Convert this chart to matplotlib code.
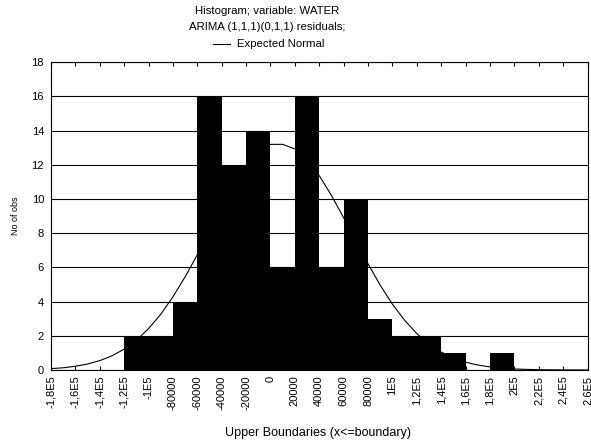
import matplotlib
matplotlib.use("Agg")
import matplotlib.pyplot as plt

plt.rcParams['font.family'] = ['Liberation Sans', 'DejaVu Sans']

# bin lower edges and counts (bin width 20000)
bin_lower = [-180000, -160000, -140000, -120000, -100000, -80000, -60000, -40000,
             -20000, 0, 20000, 40000, 60000, 80000, 100000, 120000, 140000,
             160000, 180000, 200000, 220000, 240000]
counts = [0, 0, 0, 2, 2, 4, 16, 12, 14, 6, 16, 6, 10, 3, 2, 2, 1, 0, 1, 0, 0, 0]
bin_width = 20000

# expected normal curve
curve_x = [-180000, -170000, -160000, -150000, -140000, -130000, -120000, -110000,
           -100000, -90000, -80000, -70000, -60000, -50000, -40000, -30000, -20000,
           -10000, 0, 10000, 20000, 30000, 40000, 50000, 60000, 70000, 80000, 90000,
           100000, 110000, 120000, 130000, 140000, 150000, 160000, 170000, 180000,
           190000, 200000, 210000, 220000, 230000, 240000, 250000, 260000]
curve_y = [0.08, 0.13, 0.22, 0.35, 0.55, 0.83, 1.22, 1.74, 2.42, 3.26, 4.28, 5.45,
           6.74, 8.09, 9.44, 10.70, 11.78, 12.59, 13.2, 13.2, 12.93, 12.30, 11.37,
           10.21, 8.91, 7.55, 6.21, 4.96, 3.85, 2.91, 2.13, 1.52, 1.05, 0.70, 0.46,
           0.29, 0.18, 0.11, 0.06, 0.035, 0.02, 0.01, 0.005, 0.003, 0.001]

tick_pos = [-180000, -160000, -140000, -120000, -100000, -80000, -60000, -40000,
            -20000, 0, 20000, 40000, 60000, 80000, 100000, 120000, 140000, 160000,
            180000, 200000, 220000, 240000, 260000]
tick_labels = ["-1,8E5", "-1,6E5", "-1,4E5", "-1,2E5", "-1E5", "-80000", "-60000",
               "-40000", "-20000", "0", "20000", "40000", "60000", "80000", "1E5",
               "1,2E5", "1,4E5", "1,6E5", "1,8E5", "2E5", "2,2E5", "2,4E5", "2,6E5"]
y_ticks = [0, 2, 4, 6, 8, 10, 12, 14, 16, 18]

W, H = 591, 443
fig = plt.figure(figsize=(5.91, 4.43), dpi=100)
ax_l, ax_r, ax_t, ax_b = 51, 587.5, 62.3, 370
ax = fig.add_axes([ax_l / W, (H - ax_b) / H, (ax_r - ax_l) / W, (ax_b - ax_t) / H])

ax.set_axisbelow(True)
ax.yaxis.grid(True, color='black', linewidth=0.8)
ax.bar(bin_lower, counts, width=bin_width, align='edge', color='black',
       linewidth=0, zorder=2)
ax.plot(curve_x, curve_y, color='black', linewidth=0.8, zorder=3)

ax.set_xlim(-180000, 260000)
ax.set_ylim(0, 18)
ax.set_xticks(tick_pos)
ax.set_xticklabels(tick_labels, rotation=90, fontsize=8)
ax.set_yticks(y_ticks)
ax.set_yticklabels([str(v) for v in y_ticks], fontsize=8)
ax.tick_params(axis='x', direction='in', length=3, top=True, width=0.8, pad=4)
ax.tick_params(axis='y', length=0, pad=5)
for s in ax.spines.values():
    s.set_linewidth(0.8)
    s.set_color('black')

ax.set_xlabel("Upper Boundaries (x<=boundary)", fontsize=9, va='center')
ax.xaxis.set_label_coords(0.5 - 1 / (ax_r - ax_l), (ax_b - 433) / (ax_b - ax_t))
ax.set_ylabel("No of obs", fontsize=6.5, va='center')
ax.yaxis.set_label_coords((15 - ax_l) / (ax_r - ax_l), 0.5)

cx = 267 / W
fig.text(cx, 1 - 11 / H, "Histogram; variable: WATER", ha='center', va='center', fontsize=8.2)
fig.text(cx, 1 - 27 / H, "ARIMA (1,1,1)(0,1,1) residuals;", ha='center', va='center', fontsize=8.2)
fig.text(237 / W, 1 - 44 / H, "Expected Normal", ha='left', va='center', fontsize=8.2)
fig.lines.append(plt.Line2D([213 / W, 230 / W], [1 - 44 / H, 1 - 44 / H],
                            transform=fig.transFigure, color='black', linewidth=0.8))

fig.savefig("out.png", dpi=100)
